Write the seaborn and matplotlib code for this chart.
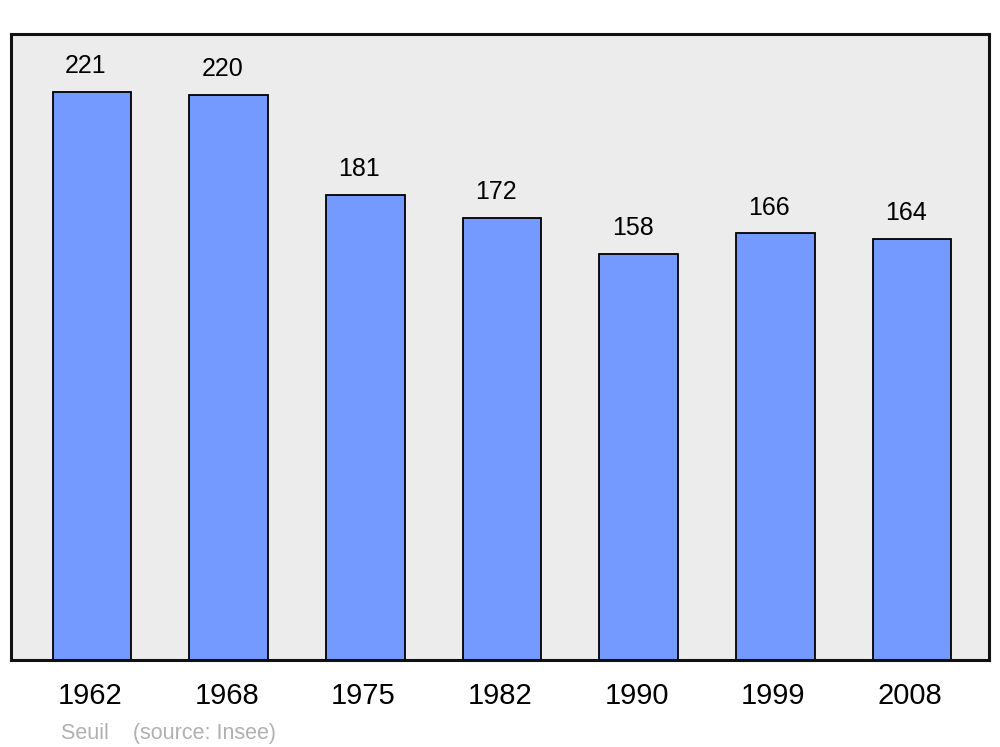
import matplotlib
matplotlib.use("Agg")
import matplotlib.pyplot as plt
import matplotlib.transforms as mtransforms
import seaborn as sns
import pandas as pd

years = ["1962", "1968", "1975", "1982", "1990", "1999", "2008"]
population = [221, 220, 181, 172, 158, 166, 164]

sns.set_style("white")
plt.rcParams['font.family'] = ['Liberation Sans', 'DejaVu Sans']

df = pd.DataFrame({"year": years, "pop": population})

fig = plt.figure(figsize=(10, 7.47), dpi=100)
ax = fig.add_axes([0.011, 1 - 660/747, 0.978, (660 - 34)/747])
ax.set_facecolor("#ececec")

sns.barplot(data=df, x="year", y="pop", color="#7499ff", saturation=1,
            width=0.575, edgecolor="black", linewidth=1.3, ax=ax, zorder=2)

for i, v in enumerate(population):
    ax.text(i - 0.044, v + 5.3, str(v), ha="center", va="bottom", fontsize=18, color="black")

ax.set_xlim(-0.593, 6.563)
ax.set_ylim(0, 243.6)
ax.set_yticks([])
ax.set_xlabel("")
ax.set_ylabel("")
ax.tick_params(axis="x", length=0, labelsize=21, pad=16, labelcolor="black")
offset = mtransforms.ScaledTranslation(-2/100, 0, fig.dpi_scale_trans)
for lab in ax.get_xticklabels():
    lab.set_transform(lab.get_transform() + offset)
for s in ax.spines.values():
    s.set_linewidth(2.2)
    s.set_color("#111111")

fig.text(0.061, 1 - 733/747, "Seuil    (source: Insee)", color="#b0b0b0",
         fontsize=15.5, ha="left", va="center")

fig.savefig("out.png", dpi=100)
